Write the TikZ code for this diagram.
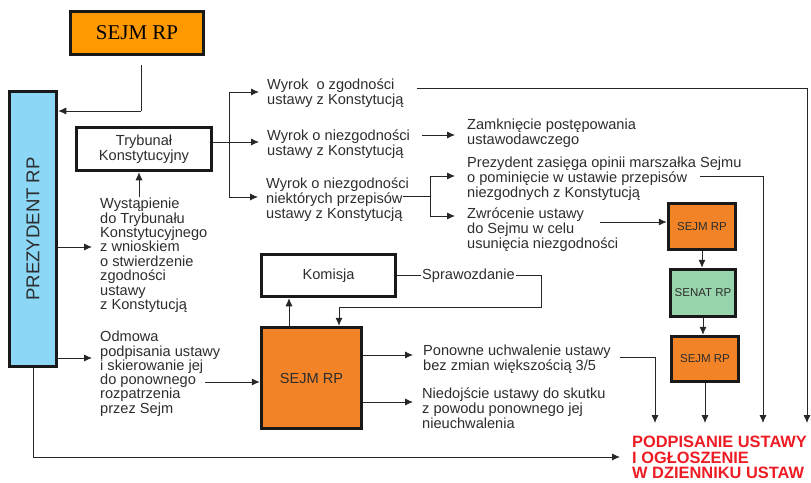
\documentclass[tikz,border=0pt]{standalone}
\usepackage{fontspec}
\setmainfont{Liberation Sans}
\newfontfamily\serifrp{Liberation Serif}
\usetikzlibrary{arrows.meta}
\usetikzlibrary{calc}

\definecolor{sejmtop}{RGB}{255,153,0}
\definecolor{sejmbox}{RGB}{242,131,38}
\definecolor{prezblue}{RGB}{140,214,246}
\definecolor{senatgreen}{RGB}{152,212,172}
\definecolor{podred}{RGB}{237,28,36}
\definecolor{txtgray}{RGB}{45,45,45}

\newcommand\txtsize{\fontsize{14.6}{14.8}\selectfont}
\newcommand\smallbox{\fontsize{11.5}{12}\selectfont}

\tikzset{
  blok/.style={draw=black!90, line width=3.5pt, inner sep=0pt, align=center, font=\txtsize, text=txtgray},
  opis/.style={align=left, inner xsep=8pt, inner ysep=0pt, anchor=north west, font=\txtsize, text=txtgray},
  linia/.style={line width=0.8pt, draw=black!85},
  strz/.style={linia, -{Latex[length=8pt,width=7pt]}},
}

\begin{document}
\begin{tikzpicture}[x=1pt,y=-1pt]

\useasboundingbox (0,0) rectangle (811,482);

% Boxes
\node [blok, fill=sejmtop, minimum width=133, minimum height=43, font=\serifrp\fontsize{21}{21}\selectfont, text=black] (sejm) at (137,33) {SEJM RP};
\node [blok, fill=prezblue, minimum width=47, minimum height=275, font=\fontsize{18.6}{18.6}\selectfont] (prez) at (33,229) {\rotatebox{90}{PREZYDENT RP}};
\node [blok, fill=white, minimum width=135, minimum height=43] (tk) at (144,149) {Trybunał\\Konstytucyjny};
\node [blok, fill=white, minimum width=134, minimum height=42] (kom) at (328.5,275.5) {Komisja};
\node [blok, fill=sejmbox, minimum width=100, minimum height=101] (sejm2) at (311.5,378) {SEJM RP};
\node [blok, fill=sejmbox, minimum width=67, minimum height=46, font=\smallbox] (sejmA) at (702,226.5) {SEJM RP};
\node [blok, fill=senatgreen, minimum width=65, minimum height=47, font=\smallbox] (senat) at (703,293) {SENAT RP};
\node [blok, fill=sejmbox, minimum width=67, minimum height=45, font=\smallbox] (sejmB) at (705,359) {SEJM RP};

% Texts
\node [opis] (zgod)  at (259,79)  {Wyrok\ \ o zgodności\\ustawy z Konstytucją};
\node [opis] (niezg) at (259,130) {Wyrok o niezgodności\\ustawy z Konstytucją};
\node [opis] (niekt) at (258,178) {Wyrok o niezgodności\\niektórych przepisów\\ustawy z Konstytucją};
\node [opis, inner xsep=12pt] (zamk)  at (455,119) {Zamknięcie postępowania\\ustawodawczego};
\node [opis, inner xsep=12pt] (opin)  at (455,157) {Prezydent zasięga opinii marszałka Sejmu\\o pominięcie w ustawie przepisów\\niezgodnych z Konstytucją};
\node [opis, inner xsep=12pt] (zwrot) at (455,208) {Zwrócenie ustawy\\do Sejmu w celu\\usunięcia niezgodności};
\node [opis, font=\fontsize{14.6}{14.4}\selectfont] (wyst) at (92,198) {Wystąpienie\\do Trybunału\\Konstytucyjnego\\z wnioskiem\\o stwierdzenie\\zgodności\\ustawy\\z Konstytucją};
\node [opis, font=\fontsize{14.6}{14.3}\selectfont] (odm) at (92,331) {Odmowa\\podpisania ustawy\\i skierowanie jej\\do ponownego\\rozpatrzenia\\przez Sejm};
\node [opis, inner xsep=10pt] (pon)  at (413,345) {Ponowne uchwalenie ustawy\\bez zmian większością 3/5};
\node [opis, inner xsep=9pt] (nied) at (413,388) {Niedojście ustawy do skutku\\z powodu ponownego jej\\nieuchwalenia};
\node [opis, inner xsep=1pt, anchor=west] (spr) at (421,276) {Sprawozdanie};
\node [opis, inner xsep=12pt, text=podred, font=\fontsize{16.4}{15.4}\selectfont\bfseries] (pod) at (620,436) {PODPISANIE USTAWY\\I OGŁOSZENIE\\W DZIENNIKU USTAW};

% Coordinates
\coordinate (s0) at (141,65);
\coordinate (s1) at (141,111);
\coordinate (p1) at (58,247);
\coordinate (p2) at (58,358);
\coordinate (p3) at (33,457);
\coordinate (w1) at (139,197);
\coordinate (b0) at (229,92);
\coordinate (b1) at (229,142);
\coordinate (b2) at (229,197);
\coordinate (z1) at (422,135);
\coordinate (c0) at (430,176);
\coordinate (c1) at (430,196);
\coordinate (c1a) at (403,196);
\coordinate (c2) at (430,216);
\coordinate (o1) at (700,176);
\coordinate (o2) at (763,423);
\coordinate (g1) at (417,88);
\coordinate (g2) at (807,423);
\coordinate (r1) at (600,222);
\coordinate (e2) at (705,423);
\coordinate (n1) at (620,357);
\coordinate (n2) at (655,423);
\coordinate (m1) at (363,355);
\coordinate (m2) at (363,402);
\coordinate (d1) at (205,382);
\coordinate (k1) at (289,326);
\coordinate (k2) at (541,307);
\coordinate (k3) at (339,307);

% Sejm -> Prezydent
\draw [linia] (s0) -- (s1);
\draw [strz] (s1) -- (s1 -| prez.east);

% Prezydent
\draw [strz] (p1 -| prez.east) -- (p1 -| wyst.west);
\draw [strz] (p2 -| prez.east) -- (p2 -| odm.west);
\draw [strz] (prez.south) -- (p3) -- (p3 -| pod.west);

% Trybunal
\draw [strz] (w1) -- (w1 |- tk.south);
\draw [linia] (b1 -| tk.east) -- (b1);
\draw [linia] (b0) -- (b2);
\draw [strz] (b0) -- (b0 -| zgod.west);
\draw [strz] (b1) -- (b1 -| niezg.west);
\draw [strz] (b2) -- (b2 -| niekt.west);

% Wyroki
\draw [strz] (z1) -- (z1 -| zamk.west);
\draw [linia] (c1a) -- (c1);
\draw [linia] (c0) -- (c2);
\draw [strz] (c0) -- (c0 -| opin.west);
\draw [strz] (c2) -- (c2 -| zwrot.west);
\draw [strz] (g1) -| (g2);
\draw [strz] (o1) -| (o2);

% Sejm - Senat - Sejm
\draw [strz] (r1) -- (r1 -| sejmA.west);
\draw [strz] (sejmA.south) -- (sejmA.south |- senat.north);
\draw [strz] (senat.south) -- (senat.south |- sejmB.north);
\draw [strz] (sejmB.south) -- (sejmB.south |- e2);

% Sejm - Komisja
\draw [strz] (d1) -- (d1 -| sejm2.west);
\draw [strz] (k1 |- sejm2.north) -- (k1 |- kom.south);
\draw [linia] (kom.east) -- (kom.east -| spr.west);
\draw [strz] (spr.east |- kom.east) -| (k2) -- (k3) -- (k3 |- sejm2.north);
\draw [strz] (m1 -| sejm2.east) -- (m1 -| pon.west);
\draw [strz] (m2 -| sejm2.east) -- (m2 -| nied.west);
\draw [strz] (n1) -| (n2);

\end{tikzpicture}
\end{document}
